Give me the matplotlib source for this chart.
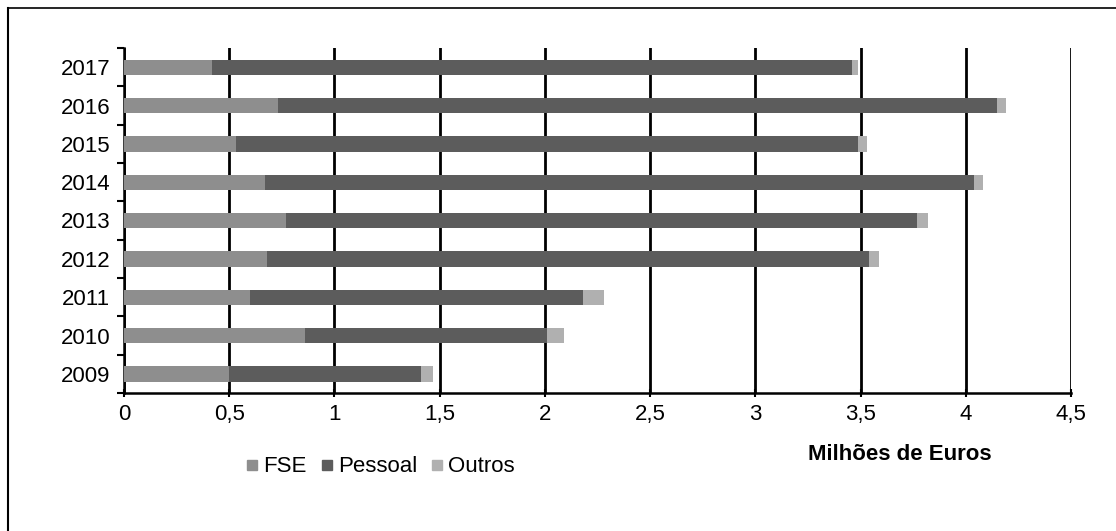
import matplotlib.pyplot as plt
from matplotlib.lines import Line2D
from matplotlib.ticker import MultipleLocator

plt.rcParams['font.family'] = ['Liberation Sans Narrow', 'Liberation Sans', 'DejaVu Sans']

# Dados (milhões de euros)
anos = ["2009", "2010", "2011", "2012", "2013", "2014", "2015", "2016", "2017"]
fse = [0.50, 0.86, 0.60, 0.68, 0.77, 0.67, 0.53, 0.73, 0.42]
pessoal = [0.91, 1.15, 1.58, 2.86, 3.00, 3.37, 2.96, 3.42, 3.04]
outros = [0.06, 0.08, 0.10, 0.05, 0.05, 0.04, 0.04, 0.04, 0.03]

cores = {"FSE": "#8e8e8e", "Pessoal": "#5c5c5c", "Outros": "#b0b0b0"}

fig = plt.figure(figsize=(11.16, 5.31), dpi=100)
ax = fig.add_axes([124 / 1116, 1 - 393 / 531, (1071 - 124) / 1116, (393 - 48) / 531])

y = range(len(anos))
esq = [0.0] * len(anos)
for nome, vals in [("FSE", fse), ("Pessoal", pessoal), ("Outros", outros)]:
    ax.barh(y, vals, left=esq, height=0.4, color=cores[nome], label=nome, zorder=3)
    esq = [a + b for a, b in zip(esq, vals)]

ax.set_xlim(0, 4.5)
ax.set_ylim(-0.5, len(anos) - 0.5)
ax.xaxis.set_major_locator(MultipleLocator(0.5))
ax.set_xticklabels([f"{v:g}".replace(".", ",") for v in ax.get_xticks()])
ax.set_yticks(list(y))
ax.set_yticklabels(anos)
ax.set_yticks([k - 0.5 for k in range(len(anos) + 1)], minor=True)
ax.tick_params(axis="y", which="major", length=0, labelsize=16, pad=10)
ax.tick_params(axis="y", which="minor", length=5, width=1.5, direction="out")
ax.tick_params(axis="x", length=6, width=1.5, direction="inout", labelsize=16, pad=5)
ax.grid(axis="x", color="black", linewidth=2, zorder=0)

for s in ["top", "right"]:
    ax.spines[s].set_visible(False)
for s in ["left", "bottom"]:
    ax.spines[s].set_linewidth(1.8)

fig.text(900 / 1116, 1 - 455 / 531, "Milhões de Euros", fontsize=16, fontweight="bold",
         ha="center", va="center")

handles = [Line2D([], [], marker="s", linestyle="none", markersize=7,
                  markerfacecolor=cores[n], markeredgecolor=cores[n]) for n in cores]
fig.legend(handles, list(cores), loc="center", bbox_to_anchor=(380 / 1116, 1 - 467 / 531),
           ncol=3, frameon=False, fontsize=16, handlelength=0.6, handletextpad=0.2,
           columnspacing=0.6)

# moldura
fig.add_artist(Line2D([8 / 1116, 8 / 1116], [0, 1 - 8 / 531], color="black", linewidth=1.5))
fig.add_artist(Line2D([8 / 1116, 1], [1 - 8 / 531, 1 - 8 / 531], color="black", linewidth=1.2))

fig.savefig("out.png", dpi=100)
